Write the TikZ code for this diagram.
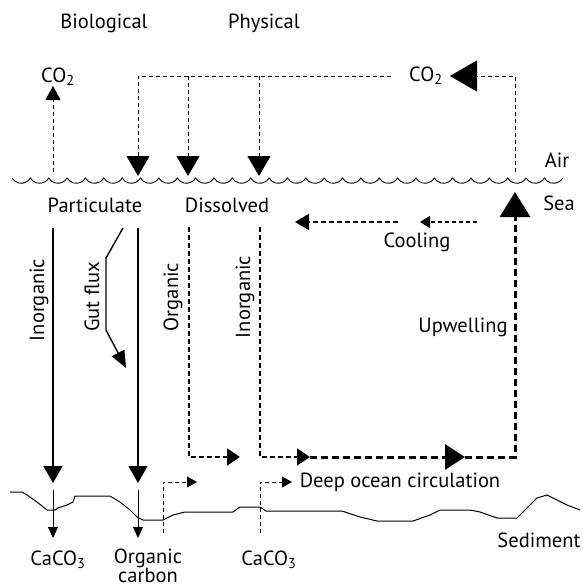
\documentclass[tikz,border=0pt]{standalone}
\usepackage{fontspec}
\setmainfont{PT Sans}
\usetikzlibrary{arrows.meta}
\begin{document}
\begin{tikzpicture}[x=1pt,y=-1pt,
  lbl/.style={font=\fontsize{20.5}{19}\selectfont, inner sep=0pt},
  thind/.style={line width=0.9pt, dash pattern=on 4pt off 3pt},
  medd/.style={line width=1.8pt, dash pattern=on 5pt off 3pt},
  thickd/.style={line width=3pt, dash pattern=on 7pt off 4pt},
  sline/.style={line width=1.6pt},
  bigdown/.style={-{Triangle[length=20pt,width=23pt]}},
  midtip/.style={-{Triangle[length=13pt,width=17pt]}},
  smalltip/.style={-{Triangle[length=10pt,width=11pt]}}
]
\useasboundingbox (0,0) rectangle (582,587);

% labels
\node[lbl] (bio) at (104,23) {Biological};
\node[lbl] (phys) at (264,23) {Physical};
\node[lbl] (co2l) at (58,77) {CO\textsubscript{2}};
\node[lbl] (co2r) at (426,76) {CO\textsubscript{2}};
\node[lbl] (air) at (557,160) {Air};
\node[lbl] (sea) at (559,203) {Sea};
\node[lbl] (part) at (95,205) {Particulate};
\node[lbl] (diss) at (227,205) {Dissolved};
\node[lbl] (cool) at (417,242) {Cooling};
\node[lbl] (upw) at (463,327) {Upwelling};
\node[lbl,rotate=90] (inorgP) at (39,300) {Inorganic};
\node[lbl,rotate=90] (gut) at (92,297) {Gut flux};
\node[lbl,rotate=90] (orgD) at (173,297) {Organic};
\node[lbl,rotate=90] (inorgD) at (245,297) {Inorganic};
\node[lbl] (deep) at (400,482) {Deep ocean circulation};
\node[lbl] (sed) at (539,540) {Sediment};
\node[lbl] (caco3l) at (58,560) {CaCO\textsubscript{3}};
\node[lbl,align=center] (orgc) at (148,566) {Organic\\carbon};
\node[lbl] (caco3r) at (269,560) {CaCO\textsubscript{3}};

% sea surface
\draw[line width=0.9pt] (12,178) \foreach \i in {1,...,30} { arc[start angle=150,end angle=30,radius=10.6] };

% air-sea exchange
\coordinate (topL) at (138,76);
\draw[thind, bigdown] ([xshift=-18pt]co2r.west) -- (topL) -- (138,176);
\draw[thind, bigdown] (188,76) -- (188,176);
\draw[thind, bigdown] (259,76) -- (259,176);
\draw[thind, -{Triangle[length=14pt,width=15pt]}] (53,172) -- (53,86);
\draw[thind, -{Triangle[length=27pt,width=31pt]}] (515,172) -- (515,76) -- (450,76);

% particulate fluxes
\draw[sline, -{Triangle[length=17pt,width=19pt]}] (53,228) -- (53,483);
\draw[sline, -{Triangle[length=17pt,width=19pt]}] (138,228) -- (138,483);
\draw[line width=0.9pt, -{Triangle[length=11pt,width=10pt]}] (53,490) -- (53,538);
\draw[line width=0.9pt, -{Triangle[length=11pt,width=10pt]}] (138,490) -- (138,538);
\draw[line width=1.4pt, -{Triangle[length=17pt,width=14pt]}] (123,228) -- (106,258) -- (106,330) -- (126,368);

% dissolved fluxes
\draw[medd, midtip] (189,227) -- (189,457) -- (240,457);
\draw[medd, midtip] (260,227) -- (260,457) -- (310,457);
\draw[thickd, -{Triangle[length=20pt,width=25pt]}] (310,457) -- (465,457);
\draw[thickd, -{Triangle[length=25pt,width=30pt]}] (465,457) -- (515,457) -- (515,192);

% cooling
\draw[medd, -{Triangle[length=14pt,width=16pt]}] (398,222) -- (295,222);
\draw[line width=1.2pt, dash pattern=on 4pt off 3pt, -{Triangle[length=10pt,width=12pt]}] (477,222) -- (420,222);

% sediment small arrows
\draw[thind, smalltip] (163,533) -- (163,482) -- (197,482);
\draw[thind, smalltip] (260,533) -- (260,482) -- (292,482);

% sediment surface
\draw[line width=1pt] (10,492) -- (22,492) -- (27,495) -- (37,502) -- (47,510) -- (55,510) -- (58,508) -- (67,505) -- (73,502) -- (75,496) -- (110,496) -- (120,502) -- (130,510) -- (137,517) -- (143,520) -- (163,520) -- (173,515) -- (185,512) -- (233,512) -- (240,507) -- (260,507) -- (266,511) -- (342,511) -- (360,517) -- (377,521) -- (413,521) -- (430,515) -- (440,510) -- (470,510) -- (480,512) -- (497,518) -- (517,518) -- (527,508) -- (537,498) -- (547,495) -- (557,500) -- (567,505) -- (580,510);
\end{tikzpicture}
\end{document}
